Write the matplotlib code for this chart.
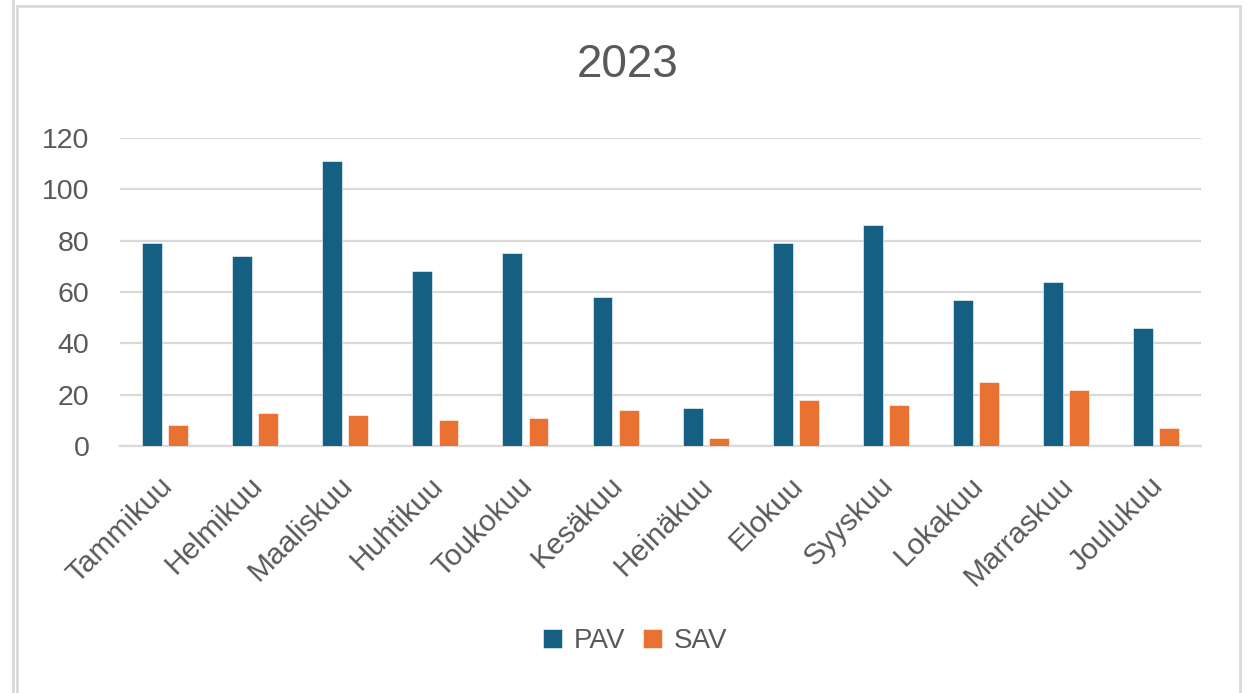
import numpy as np
import matplotlib.pyplot as plt
import matplotlib.transforms as mtransforms
from matplotlib.lines import Line2D

plt.rcParams['font.family'] = ['Liberation Sans', 'DejaVu Sans']

# data
kuukaudet = ['Tammikuu', 'Helmikuu', 'Maaliskuu', 'Huhtikuu', 'Toukokuu', 'Kesäkuu',
             'Heinäkuu', 'Elokuu', 'Syyskuu', 'Lokakuu', 'Marraskuu', 'Joulukuu']
pav = [79, 74, 111, 68, 75, 58, 15, 79, 86, 57, 64, 46]
sav = [8, 13, 12, 10, 11, 14, 3, 18, 16, 25, 22, 7]
y_ticks = [0, 20, 40, 60, 80, 100, 120]

c_pav = '#156082'
c_sav = '#E97132'
c_grid = '#D9D9D9'
c_text = '#595959'

fig = plt.figure(figsize=(12.5, 6.93), dpi=100)
ax = fig.add_axes([0.096, 0.3564, 0.865, 0.4445])

x = np.arange(len(kuukaudet))
w = 0.22
ax.bar(x - 0.145, pav, w, color=c_pav, edgecolor='white', linewidth=0.4, label='PAV', zorder=3)
ax.bar(x + 0.145, sav, w, color=c_sav, edgecolor='white', linewidth=0.4, label='SAV', zorder=3)

ax.set_xlim(-0.5, len(kuukaudet) - 0.5)
ax.set_ylim(0, 120)
ax.set_yticks(y_ticks)
ax.yaxis.grid(True, color=c_grid, linewidth=1.6, zorder=0)
ax.set_axisbelow(True)
for s in ['top', 'right', 'left']:
    ax.spines[s].set_visible(False)
ax.spines['bottom'].set_color(c_grid)
ax.spines['bottom'].set_linewidth(1.6)
ax.tick_params(length=0, labelcolor=c_text)
ax.tick_params(axis='y', pad=22, labelsize=20.5)
ax.set_xticks(x)
ax.set_xticklabels(kuukaudet, rotation=45, ha='right', rotation_mode='anchor')
ax.tick_params(axis='x', pad=14, labelsize=21.5)
# siirretään nimiä vähän vasemmalle ja alas
siirto = mtransforms.ScaledTranslation(-7/100, -6/100, fig.dpi_scale_trans)
for lab in ax.get_xticklabels():
    lab.set_transform(lab.get_transform() + siirto)

fig.text(0.502, 0.906, '2023', ha='center', va='center', fontsize=33, color=c_text)

ax.legend(loc='center', bbox_to_anchor=(0.508, 0.075), bbox_transform=fig.transFigure,
          ncol=2, frameon=False, fontsize=20, labelcolor=c_text,
          handlelength=0.7, handleheight=0.7, handletextpad=0.4, columnspacing=0.65)

# kehykset
fig.add_artist(Line2D([12.5/1250, 12.5/1250], [0, 1], color=c_grid, linewidth=2))
fig.add_artist(Line2D([17/1250, 17/1250], [0, 1 - 6/693], color=c_grid, linewidth=2))
fig.add_artist(Line2D([17/1250, 1240/1250], [1 - 6/693, 1 - 6/693], color=c_grid, linewidth=2))
fig.add_artist(Line2D([1240/1250, 1240/1250], [0, 1 - 6/693], color=c_grid, linewidth=2))

fig.savefig('out.png', dpi=100, facecolor='white')
